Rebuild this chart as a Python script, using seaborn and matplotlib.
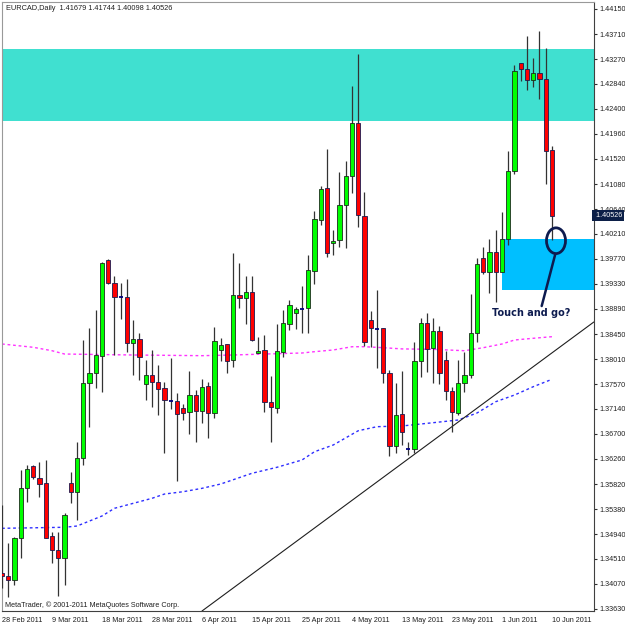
import numpy as np
import pandas as pd
import matplotlib
matplotlib.use('Agg')
import matplotlib.pyplot as plt
import matplotlib.transforms as mtransforms
from matplotlib.patches import Ellipse, Rectangle
import seaborn as sns

# ---------------- data ----------------
open_ = [1.34255, 1.34213, 1.34138, 1.34869, 1.35746, 1.36136, 1.35933, 1.35839, 1.34909, 1.34664,
         1.34529, 1.35839, 1.35686, 1.36272, 1.37587, 1.37773, 1.38071, 1.39749, 1.39340, 1.39105,
         1.39095, 1.38288, 1.38358, 1.37569, 1.37732, 1.37604, 1.37499, 1.37282, 1.37276, 1.37154,
         1.37090, 1.37382, 1.37101, 1.37534, 1.37071, 1.38171, 1.38271, 1.37990, 1.39135, 1.39077,
         1.39182, 1.38123, 1.38174, 1.37264, 1.37148, 1.38141, 1.38621, 1.38814, 1.38907, 1.38912,
         1.39561, 1.40450, 1.41006, 1.40042, 1.40099, 1.40713, 1.41214, 1.42146, 1.40526, 1.38697,
         1.38556, 1.38551, 1.37773, 1.36487, 1.37048, 1.36452, 1.36429, 1.37978, 1.38639, 1.38200,
         1.38504, 1.37990, 1.37457, 1.37071, 1.37587, 1.37732, 1.38463, 1.39779, 1.39544, 1.39894,
         1.39544, 1.40112, 1.41309, 1.43198, 1.43098, 1.42905, 1.43033, 1.42917, 1.41679]
high = [1.35453, 1.34781, 1.34897, 1.36066, 1.36154, 1.36154, 1.36198, 1.36242, 1.34984, 1.34984,
        1.35307, 1.36037, 1.36563, 1.38346, 1.38551, 1.38872, 1.39719, 1.39766, 1.39468, 1.39340,
        1.39416, 1.38697, 1.38474, 1.37995, 1.38171, 1.37908, 1.37615, 1.38025, 1.37422, 1.37224,
        1.37808, 1.37469, 1.37669, 1.37615, 1.38579, 1.38376, 1.38276, 1.39866, 1.39691, 1.39468,
        1.39468, 1.38393, 1.38434, 1.37715, 1.38621, 1.38872, 1.39047, 1.38919, 1.39293, 1.39836,
        1.40608, 1.41046, 1.41690, 1.40275, 1.41297, 1.41485, 1.42800, 1.43361, 1.40933, 1.38854,
        1.39223, 1.38556, 1.37820, 1.37587, 1.37808, 1.36563, 1.38316, 1.38726, 1.38814, 1.38726,
        1.38591, 1.38158, 1.37522, 1.37995, 1.38141, 1.39150, 1.39779, 1.39982, 1.40112, 1.40275,
        1.40596, 1.41660, 1.43168, 1.43203, 1.43677, 1.43286, 1.43764, 1.43471, 1.41744]
low = [1.33992, 1.33845, 1.34050, 1.34518, 1.35511, 1.35916, 1.35598, 1.34869, 1.34430, 1.33862,
       1.34050, 1.35482, 1.35190, 1.36154, 1.36826, 1.37499, 1.37439, 1.39328, 1.38083, 1.38714,
       1.38141, 1.37732, 1.37645, 1.37294, 1.37176, 1.37031, 1.36359, 1.37136, 1.35879, 1.36943,
       1.36698, 1.36563, 1.36885, 1.36622, 1.36979, 1.37983, 1.37762, 1.37870, 1.38902, 1.38626,
       1.38328, 1.38118, 1.37090, 1.36552, 1.37061, 1.38053, 1.38521, 1.38533, 1.38463, 1.38474,
       1.39328, 1.40362, 1.39807, 1.39836, 1.39971, 1.39954, 1.40918, 1.40333, 1.38241, 1.38228,
       1.37850, 1.37587, 1.36312, 1.36359, 1.36505, 1.36329, 1.36359, 1.37702, 1.37785, 1.37597,
       1.37574, 1.37294, 1.36738, 1.37031, 1.37434, 1.37680, 1.38316, 1.39503, 1.39165, 1.39017,
       1.39538, 1.40012, 1.41257, 1.42887, 1.42730, 1.42777, 1.42567, 1.41081, 1.40098]
close = [1.34213, 1.34138, 1.34879, 1.35746, 1.36079, 1.35944, 1.35828, 1.34879, 1.34664, 1.34529,
         1.35277, 1.35675, 1.36272, 1.37597, 1.37773, 1.38083, 1.39701, 1.39340, 1.39095, 1.39095,
         1.38288, 1.38358, 1.38053, 1.37732, 1.37604, 1.37481, 1.37294, 1.37271, 1.37048, 1.37071,
         1.37382, 1.37101, 1.37522, 1.37071, 1.38334, 1.38258, 1.37978, 1.39135, 1.39081, 1.39182,
         1.38346, 1.38158, 1.37264, 1.37166, 1.38153, 1.38639, 1.38960, 1.38890, 1.38897, 1.39573,
         1.40462, 1.40989, 1.39866, 1.40087, 1.40713, 1.41214, 1.42146, 1.40538, 1.38306, 1.38551,
         1.38546, 1.37762, 1.36487, 1.37031, 1.36727, 1.36435, 1.37978, 1.38639, 1.38188, 1.38504,
         1.37773, 1.37457, 1.37090, 1.37597, 1.37732, 1.38463, 1.39673, 1.39544, 1.39894, 1.39544,
         1.40112, 1.41309, 1.43063, 1.43098, 1.42905, 1.43033, 1.42917, 1.41665, 1.40526]

ma_slow_x = [0, 5, 8, 10, 21, 32, 37, 42, 48, 50, 53, 56, 58, 61, 64, 69, 74, 77, 80, 82, 85, 88]
ma_slow_y = [1.38276, 1.38218, 1.38158, 1.38100, 1.38083, 1.38071, 1.38083, 1.38100, 1.38118, 1.38141,
             1.38171, 1.38228, 1.38228, 1.38211, 1.38190, 1.38182, 1.38158, 1.38211, 1.38276, 1.38346,
             1.38376, 1.38404]
ma_blue_x = [0, 10, 12, 16, 18, 21, 24, 26, 29, 32, 35, 40, 44, 48, 50, 53, 57, 60, 64, 69, 73, 76,
             79, 82, 85, 88]
ma_blue_y = [1.35044, 1.35062, 1.35084, 1.35260, 1.35395, 1.35482, 1.35570, 1.35645, 1.35686, 1.35745,
             1.35821, 1.36009, 1.36114, 1.36242, 1.36387, 1.36505, 1.36755, 1.36826, 1.36838, 1.36896,
             1.36943, 1.37066, 1.37264, 1.37381, 1.37527, 1.37657]

trend_x = [32, 94.7]
trend_y = [1.33594, 1.38662]

sell_zone = [1.42191, 1.43449]
buy_zone = [1.39223, 1.40117]
buy_zone_start = 79.95

date_labels = ['28 Feb 2011', '9 Mar 2011', '18 Mar 2011', '28 Mar 2011', '6 Apr 2011', '15 Apr 2011',
               '25 Apr 2011', '4 May 2011', '13 May 2011', '23 May 2011', '1 Jun 2011', '10 Jun 2011']
date_idx = [0, 8, 16, 24, 32, 40, 48, 56, 64, 72, 80, 88]

price_ticks = [1.44150, 1.43710, 1.43270, 1.42840, 1.42400, 1.41960, 1.41520, 1.41080, 1.40640,
               1.40210, 1.39770, 1.39330, 1.38890, 1.38450, 1.38010, 1.37570, 1.37140, 1.36700,
               1.36260, 1.35820, 1.35380, 1.34940, 1.34510, 1.34070, 1.33630]

title_text = 'EURCAD,Daily  1.41679 1.41744 1.40098 1.40526'
last_price = 1.40526
note_text = 'Touch and go?'
circle_center = (88.64, 1.40087)
pointer_x = [88.53, 86.35]
pointer_y = [1.39854, 1.38942]
note_pos = (84.75, 1.38814)

# ---------------- plot ----------------
sns.set_style('white')
plt.rcParams['font.family'] = ['Liberation Sans', 'DejaVu Sans']

fig = plt.figure(figsize=(6.25, 6.25), dpi=100)
ax = fig.add_axes([0.00272, 0.0224, 0.94768, 0.97488])

df = pd.DataFrame({'i': np.arange(len(open_)), 'open': open_, 'high': high,
                   'low': low, 'close': close})
diff = df['close'] - df['open']
doji = diff.abs() < 0.0002
up = (diff > 0) & ~doji
down = (diff < 0) & ~doji

ax.axhspan(sell_zone[0], sell_zone[1], color='#40E0D0', lw=0, zorder=0)
ax.add_patch(Rectangle((buy_zone_start, buy_zone[0]), 20, buy_zone[1] - buy_zone[0],
                       color='#00BFFF', lw=0, zorder=0.5))

sns.lineplot(x=ma_slow_x, y=ma_slow_y, ax=ax, color='#FF33FF', lw=1.0, linestyle=(0, (2, 2)), zorder=1)
sns.lineplot(x=ma_blue_x, y=ma_blue_y, ax=ax, color='#2E2EFF', lw=1.0, linestyle=(0, (2, 2)), zorder=1)
ax.plot(trend_x, trend_y, color='#1e1e1e', lw=0.8, zorder=1.5)

ax.vlines(df['i'], df['low'], df['high'], colors='#333333', lw=0.9, zorder=3)
ax.bar(df['i'][up], diff[up], bottom=df['open'][up], width=0.7, color='#00FF00',
       edgecolor='#1c2a1c', lw=0.6, zorder=4)
ax.bar(df['i'][down], -diff[down], bottom=df['close'][down], width=0.7, color='#FF0000',
       edgecolor='#1a1a50', lw=0.6, zorder=4)
ax.hlines(df['close'][doji], df['i'][doji] - 0.35, df['i'][doji] + 0.35, colors='#000080',
          lw=1.3, zorder=4)

ax.add_patch(Ellipse(circle_center, width=3.04, height=0.00451, fill=False,
                     edgecolor='#0d1b4f', lw=2.0, zorder=6))
ax.plot(pointer_x, pointer_y, color='#0d1b4f', lw=1.8, zorder=6)
ax.text(note_pos[0], note_pos[1], note_text, ha='center', va='center', fontsize=7,
        fontweight='bold', color='#0d1b4f', family=['DejaVu Sans'], zorder=6)

ax.set_xlim(-0.048, 94.72)
ax.set_ylim(1.33594, 1.44278)
ax.yaxis.tick_right()
ax.set_yticks(price_ticks)
ax.set_yticklabels([f'{v:.5f}' for v in price_ticks])
ax.set_xticks(date_idx)
ax.set_xticklabels(date_labels, ha='left')
ax.tick_params(axis='both', direction='out', length=2.5, width=0.8, color='#303030',
               labelcolor='#202020', labelsize=5.2, pad=1.5)
ax.set_xlabel('')
ax.set_ylabel('')
for s in ['top', 'left']:
    ax.spines[s].set_color('#999999')
    ax.spines[s].set_linewidth(0.8)
for s in ['right', 'bottom']:
    ax.spines[s].set_color('#404040')
    ax.spines[s].set_linewidth(0.8)

trans = mtransforms.blended_transform_factory(ax.transAxes, ax.transData)
ax.text(1.0, last_price, ' ' + f'{last_price:.5f}', transform=trans, ha='left', va='center',
        fontsize=5.2, color='white', clip_on=False, zorder=10,
        bbox=dict(boxstyle='square,pad=0.25', fc='#0c1f47', ec='none'))

ax.text(0.0073, 0.9885, title_text, transform=ax.transAxes, ha='left', va='center',
        fontsize=5.3, color='#202020')
ax.text(0.005, 0.0098, 'MetaTrader, \u00a9 2001-2011 MetaQuotes Software Corp.',
        transform=ax.transAxes, ha='left', va='center', fontsize=5.2, color='#202020')

fig.savefig('out.png', dpi=100, facecolor='white')
